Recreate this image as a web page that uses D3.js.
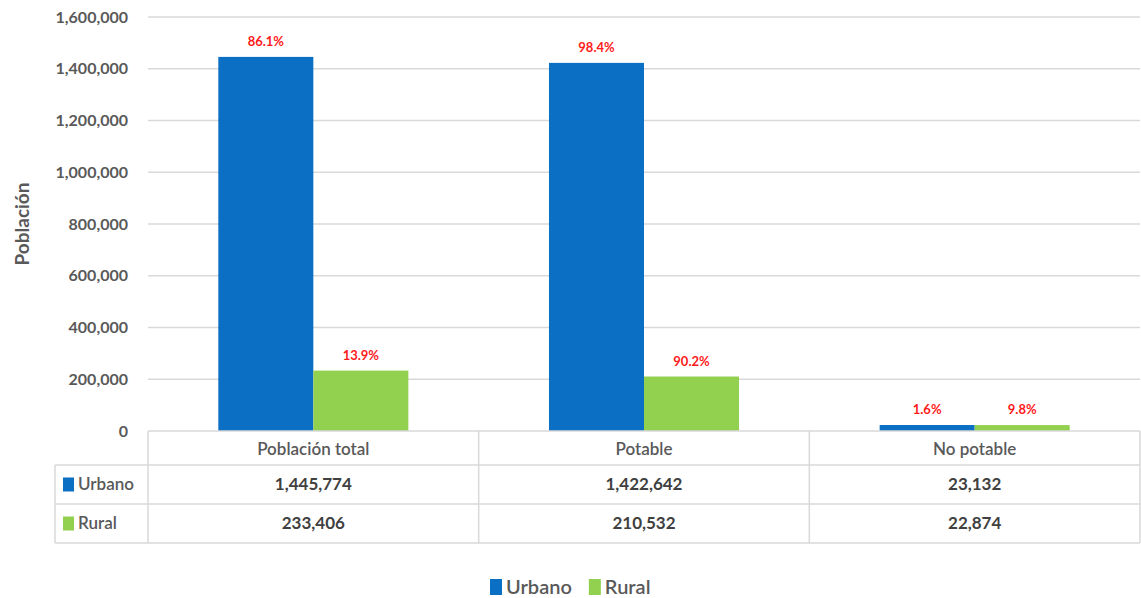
<!DOCTYPE html>
<meta charset="utf-8">
<style>
body { margin: 0; background: #fff; }
text { font-family: Lato, "Open Sans", sans-serif; }
.grid line { stroke: #d9d9d9; stroke-width: 1.5; }
.tick-label { fill: #595959; font-size: 16px; font-weight: bold; }
.cell { fill: #404040; font-size: 17px; font-weight: bold; }
.pct { fill: #ff1a1a; font-size: 13px; font-weight: bold; }
.border { stroke: #d9d9d9; stroke-width: 1.5; fill: none; }
</style>
<body></body>
<script src="https://d3js.org/d3.v7.min.js"></script>
<script>
// data
var categories = ["Población total", "Potable", "No potable"];
var seriesNames = ["Urbano", "Rural"];
var urbano = [1445774, 1422642, 23132];
var rural = [233406, 210532, 22874];
var urbanoPct = ["86.1%", "98.4%", "1.6%"];
var ruralPct = ["13.9%", "90.2%", "9.8%"];
var yTicks = [0, 200000, 400000, 600000, 800000, 1000000, 1200000, 1400000, 1600000];
var colors = ["#0b6fc4", "#92d050"];

var W = 1141, H = 598;
var plotLeft = 148, plotRight = 1140, plotTop = 17, zeroY = 431;

var svg = d3.select("body").append("svg")
    .attr("width", W)
    .attr("height", H);

var x0 = d3.scaleBand()
    .domain(categories)
    .range([plotLeft, plotRight])
    .paddingInner(0)
    .paddingOuter(0);

var x1 = d3.scaleBand()
    .domain(seriesNames)
    .range([0, x0.bandwidth()])
    .paddingInner(0)
    .paddingOuter(0.74);

var y = d3.scaleLinear()
    .domain([0, 1600000])
    .range([zeroY, plotTop]);

var fmt = d3.format(",");

// gridlines
svg.append("g").attr("class", "grid")
  .selectAll("line")
  .data(yTicks.filter(function(d) { return d > 0; }))
  .enter().append("line")
    .attr("x1", plotLeft)
    .attr("x2", plotRight)
    .attr("y1", function(d) { return y(d); })
    .attr("y2", function(d) { return y(d); });

// y tick labels
svg.append("g")
  .selectAll("text")
  .data(yTicks)
  .enter().append("text")
    .attr("class", "tick-label")
    .attr("x", 128)
    .attr("y", function(d) { return y(d); })
    .attr("dy", "0.35em")
    .attr("text-anchor", "end")
    .text(function(d) { return fmt(d); });

// y axis title
svg.append("text")
    .attr("transform", "translate(29," + ((plotTop + zeroY) / 2) + ") rotate(-90)")
    .attr("text-anchor", "middle")
    .style("font-size", "19px")
    .style("font-weight", "bold")
    .style("fill", "#595959")
    .text("Población");

// bars
var series = [
  { name: "Urbano", values: urbano, pct: urbanoPct, color: colors[0] },
  { name: "Rural", values: rural, pct: ruralPct, color: colors[1] }
];

series.forEach(function(s) {
  var g = svg.append("g");
  g.selectAll("rect")
    .data(categories)
    .enter().append("rect")
      .attr("x", function(c) { return x0(c) + x1(s.name); })
      .attr("y", function(c, i) { return y(s.values[i]); })
      .attr("width", x1.bandwidth())
      .attr("height", function(c, i) { return zeroY - y(s.values[i]); })
      .attr("fill", s.color);
  g.selectAll("text")
    .data(categories)
    .enter().append("text")
      .attr("class", "pct")
      .attr("x", function(c) { return x0(c) + x1(s.name) + x1.bandwidth() / 2; })
      .attr("y", function(c, i) { return y(s.values[i]) - 11; })
      .attr("text-anchor", "middle")
      .text(function(c, i) { return s.pct[i]; });
});

// data table
var headH = 34, rowH = 39, tableLeft = 55;
var rowY = [zeroY + headH, zeroY + headH + rowH, zeroY + headH + 2 * rowH];

svg.append("line").attr("class", "border")
    .attr("x1", plotLeft).attr("x2", plotRight).attr("y1", zeroY).attr("y2", zeroY);
rowY.forEach(function(yy) {
  svg.append("line").attr("class", "border")
      .attr("x1", tableLeft).attr("x2", plotRight).attr("y1", yy).attr("y2", yy);
});
x0.domain().forEach(function(c) {
  svg.append("line").attr("class", "border")
      .attr("x1", x0(c)).attr("x2", x0(c)).attr("y1", zeroY).attr("y2", rowY[2]);
});
svg.append("line").attr("class", "border")
    .attr("x1", plotRight).attr("x2", plotRight).attr("y1", zeroY).attr("y2", rowY[2]);
svg.append("line").attr("class", "border")
    .attr("x1", tableLeft).attr("x2", tableLeft).attr("y1", rowY[0]).attr("y2", rowY[2]);

// header
svg.append("g").selectAll("text")
  .data(categories)
  .enter().append("text")
    .attr("class", "cell")
    .attr("x", function(c) { return x0(c) + x0.bandwidth() / 2; })
    .attr("y", zeroY + headH / 2 + 7)
    .attr("text-anchor", "middle")
    .style("font-weight", "600")
    .style("fill", "#595959")
    .text(function(c) { return c; });

series.forEach(function(s, r) {
  var cy = rowY[r] + rowH / 2;
  svg.append("rect")
      .attr("x", 63).attr("y", cy - 7)
      .attr("width", 11).attr("height", 14)
      .attr("fill", s.color);
  svg.append("text")
      .attr("class", "cell")
      .attr("x", 78).attr("y", cy)
      .attr("dy", "0.35em")
      .style("font-weight", "600")
      .style("fill", "#595959")
      .text(s.name);
  svg.append("g").selectAll("text")
    .data(categories)
    .enter().append("text")
      .attr("class", "cell")
      .attr("x", function(c) { return x0(c) + x0.bandwidth() / 2; })
      .attr("y", cy)
      .attr("dy", "0.35em")
      .attr("text-anchor", "middle")
      .text(function(c, i) { return fmt(s.values[i]); });
});

// legend
var legend = svg.append("g").attr("transform", "translate(490,587)");
var lx = 0;
series.forEach(function(s) {
  legend.append("rect")
      .attr("x", lx).attr("y", -8)
      .attr("width", 12).attr("height", 16)
      .attr("fill", s.color);
  var t = legend.append("text")
      .attr("x", lx + 16).attr("y", 0)
      .attr("dy", "0.35em")
      .style("font-size", "20px")
      .style("font-weight", "600")
      .style("fill", "#595959")
      .text(s.name);
  lx += 16 + t.node().getComputedTextLength() + 17;
});
</script>
